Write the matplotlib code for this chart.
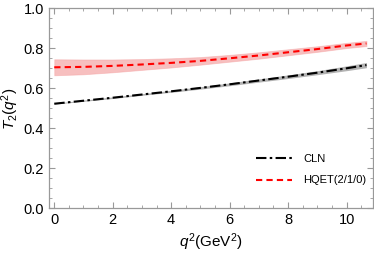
import matplotlib.pyplot as plt
from matplotlib.ticker import MultipleLocator

plt.rcParams['font.family'] = ['Liberation Sans', 'DejaVu Sans']
plt.rcParams['mathtext.fontset'] = 'custom'
plt.rcParams['mathtext.rm'] = 'Liberation Sans'
plt.rcParams['mathtext.it'] = 'Liberation Sans:italic'

# q^2 grid (GeV^2)
q2 = [0, 1, 2, 3, 4, 5, 6, 7, 8, 9, 10, 10.68]

# CLN
cln = [0.523, 0.538, 0.553, 0.569, 0.585, 0.602, 0.620, 0.639, 0.658, 0.678, 0.700, 0.716]
cln_err = [0.002, 0.003, 0.004, 0.004, 0.005, 0.006, 0.007, 0.008, 0.009, 0.010, 0.012, 0.013]

# HQET(2/1/0)
hqet = [0.705, 0.707, 0.712, 0.719, 0.727, 0.737, 0.750, 0.764, 0.780, 0.796, 0.814, 0.824]
hqet_err = [0.040, 0.037, 0.032, 0.027, 0.023, 0.019, 0.017, 0.016, 0.015, 0.014, 0.013, 0.013]

fig = plt.figure(figsize=(3.74, 2.57), dpi=100)
ax = fig.add_axes([0.131, 0.189, 0.866, 0.779])

lo = [c - e for c, e in zip(cln, cln_err)]
hi = [c + e for c, e in zip(cln, cln_err)]
ax.fill_between(q2, lo, hi, color='gray', alpha=0.6, lw=0)
lo = [c - e for c, e in zip(hqet, hqet_err)]
hi = [c + e for c, e in zip(hqet, hqet_err)]
ax.fill_between(q2, lo, hi, color='#f08080', alpha=0.5, lw=0.6, edgecolor='#f4a0a0')

ax.plot(q2, cln, color='black', ls=(0, (5, 1.6, 1.2, 1.6)), lw=1.5, label='CLN')
ax.plot(q2, hqet, color='red', ls=(0, (3, 2)), lw=1.5, label='HQET(2/1/0)')

ax.set_xlim(-0.18, 10.9)
ax.set_ylim(0, 1.0)
ax.xaxis.set_major_locator(MultipleLocator(2))
ax.xaxis.set_minor_locator(MultipleLocator(0.5))
ax.yaxis.set_major_locator(MultipleLocator(0.2))
ax.yaxis.set_minor_locator(MultipleLocator(0.05))
ax.yaxis.set_major_formatter(plt.FormatStrFormatter('%.1f'))
ax.tick_params(which='both', direction='in', top=True, right=True, color='#999999', labelsize=10.5)
ax.tick_params(which='major', length=4, width=0.8)
ax.tick_params(which='minor', length=2.2, width=0.6)
for s in ax.spines.values():
    s.set_color('#999999')
    s.set_linewidth(0.9)

ax.set_xlabel(r'$q^2$(GeV$^2$)', fontsize=11, labelpad=3)
ax.set_ylabel(r'$T_2(q^2)$', fontsize=11, labelpad=2)

ax.legend(loc='lower right', bbox_to_anchor=(1.01, 0.065), frameon=False, fontsize=8,
          handlelength=3.2, labelspacing=1.0, handletextpad=1.0)

fig.savefig('out.png', dpi=100)
